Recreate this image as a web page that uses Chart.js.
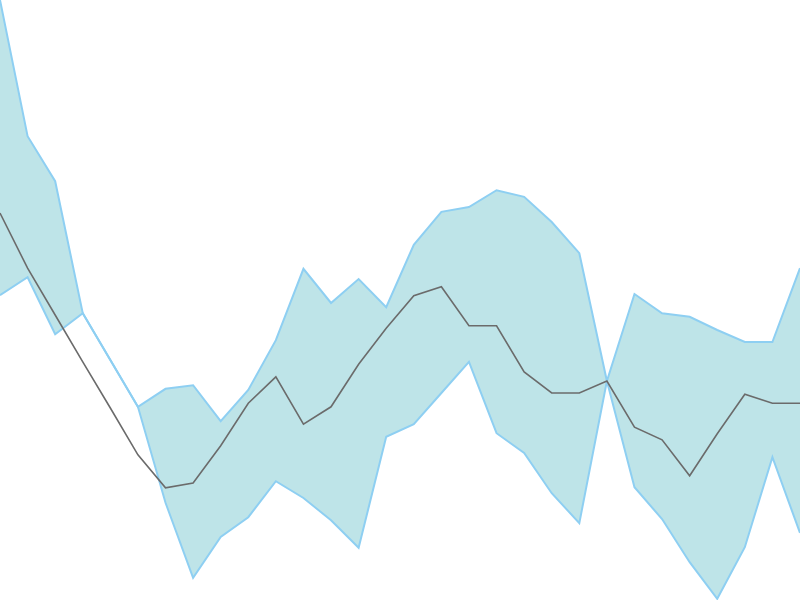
<!DOCTYPE html>
<html>
<head>
<meta charset="utf-8">
<script src="https://cdn.jsdelivr.net/npm/chart.js@4/dist/chart.umd.min.js"></script>
<style>
  html, body { margin: 0; padding: 0; background: #fff; }
  #wrap { width: 800px; height: 600px; }
</style>
</head>
<body>
<div id="wrap"><canvas id="chart" width="800" height="600"></canvas></div>
<script>
// values, 0..100 scale
const labels = Array.from({ length: 30 }, (_, i) => "P" + (i + 1));

const upper = [100.0, 77.3, 69.8, 47.8, 40.0, 32.2, 35.2, 35.8, 29.8, 35.0,
  43.3, 55.2, 49.5, 53.5, 48.8, 59.2, 64.7, 65.5, 68.3, 67.2,
  63.0, 57.8, 36.5, 51.0, 47.8, 47.2, 45.0, 43.0, 43.0, 55.3];

const lower = [50.8, 53.8, 44.3, 47.8, 40.0, 32.2, 16.2, 3.7, 10.5, 13.8,
  19.8, 17.0, 13.3, 8.7, 27.2, 29.3, 34.5, 39.7, 27.8, 24.5,
  17.8, 12.8, 36.5, 18.8, 13.5, 6.3, 0.2, 8.8, 23.8, 11.2];

const middle = [64.5, 55.3, 47.5, 39.7, 32.0, 24.2, 18.7, 19.5, 25.7, 32.8,
  37.2, 29.3, 32.2, 39.3, 45.3, 50.7, 52.2, 45.7, 45.7, 38.0,
  34.5, 34.5, 36.5, 28.8, 26.7, 20.7, 27.7, 34.3, 32.8, 32.8];

const bandLine = "#8ecff2";
const bandFill = "#bee4e8";
const midLine = "#6b6b6b";

new Chart(document.getElementById("chart"), {
  type: "line",
  data: {
    labels: labels,
    datasets: [
      {
        label: "mid",
        data: middle,
        borderColor: midLine,
        borderWidth: 1.6,
        pointRadius: 0,
        fill: false,
        tension: 0,
        order: 0
      },
      {
        label: "upper",
        data: upper,
        borderColor: bandLine,
        borderWidth: 2,
        backgroundColor: bandFill,
        pointRadius: 0,
        fill: "+1",
        tension: 0,
        order: 2
      },
      {
        label: "lower",
        data: lower,
        borderColor: bandLine,
        borderWidth: 2,
        pointRadius: 0,
        fill: false,
        tension: 0,
        order: 1
      }
    ]
  },
  options: {
    responsive: false,
    animation: false,
    layout: { padding: 0 },
    plugins: { legend: { display: false }, tooltip: { enabled: false } },
    scales: {
      x: { display: false, offset: false },
      y: { display: false, min: 0, max: 100 }
    }
  }
});
</script>
</body>
</html>
